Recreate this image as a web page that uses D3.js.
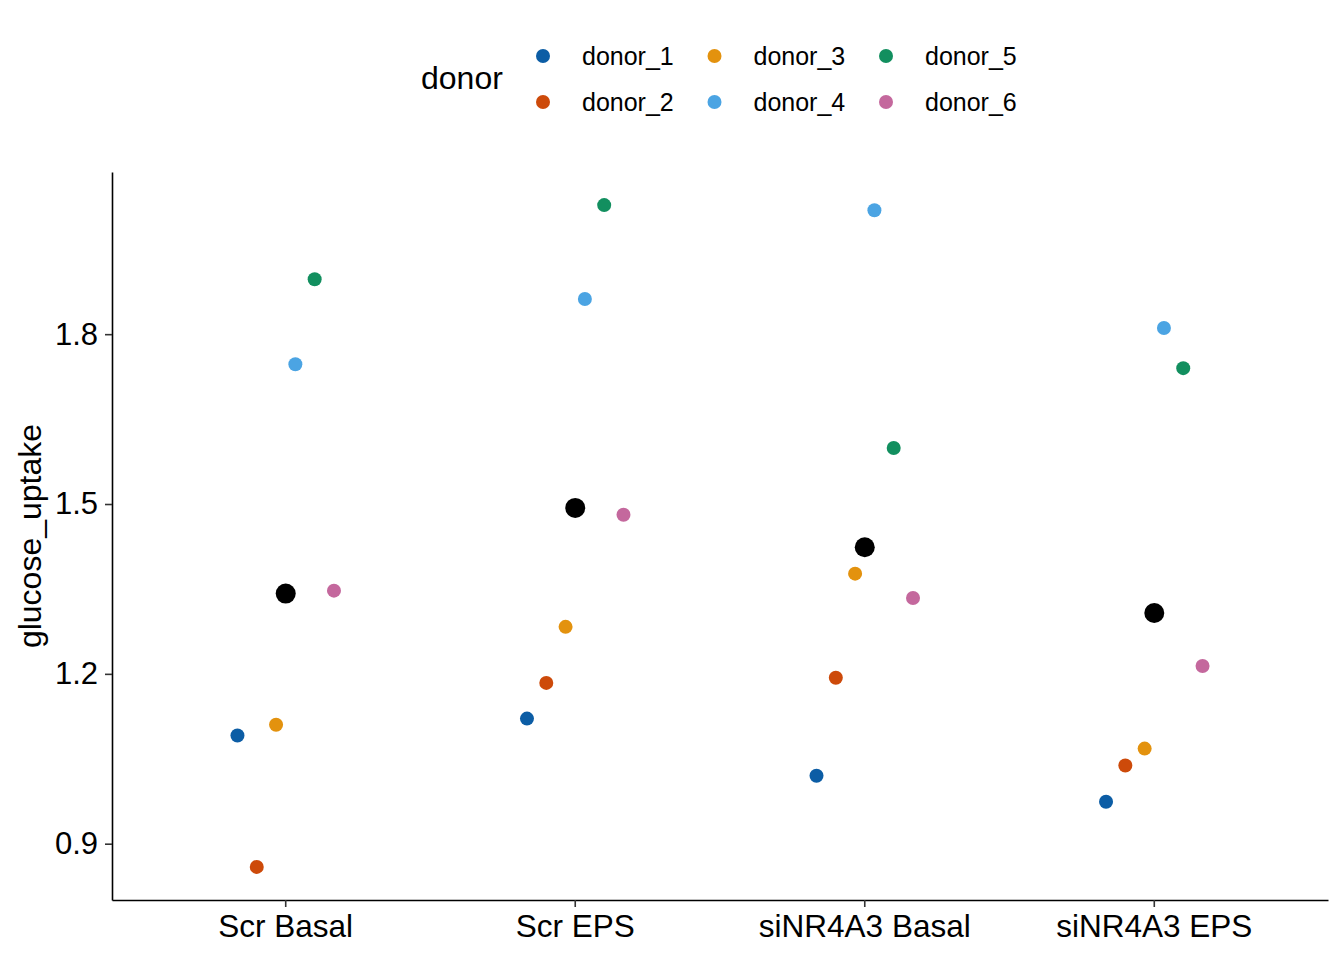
<!DOCTYPE html>
<html>
<head>
<meta charset="utf-8">
<script src="https://cdn.jsdelivr.net/npm/d3@7"></script>
<style>
  body { margin: 0; background: #fff; }
  svg text { font-family: "Liberation Sans", Arial, sans-serif; fill: #000; }
</style>
</head>
<body>
<svg width="1344" height="960"></svg>
<script>
const conditions = ["Scr Basal", "Scr EPS", "siNR4A3 Basal", "siNR4A3 EPS"];
const donors = ["donor_1", "donor_2", "donor_3", "donor_4", "donor_5", "donor_6"];
const donorColors = ["#0C5DA5", "#CD4A0A", "#E3920E", "#4BA4E3", "#128F5F", "#C4689D"];

// glucose uptake per condition, one value per donor (donor_1 .. donor_6)
const scrBasal = [1.091, 0.859, 1.110, 1.747, 1.897, 1.347];
const scrEps = [1.121, 1.184, 1.283, 1.862, 2.028, 1.481];
const siBasal = [1.020, 1.193, 1.377, 2.019, 1.599, 1.334];
const siEps = [0.974, 1.038, 1.068, 1.811, 1.740, 1.214];

const yTicks = [0.9, 1.2, 1.5, 1.8];

const seriesByCondition = [scrBasal, scrEps, siBasal, siEps];

const points = [];
conditions.forEach((c, ci) => {
  seriesByCondition[ci].forEach((v, di) => {
    points.push({ condition: c, donor: donors[di], di: di, value: v });
  });
});
const means = conditions.map((c, ci) => ({ condition: c, value: d3.mean(seriesByCondition[ci]) }));

const svg = d3.select("svg");
const margin = { top: 172, right: 16, bottom: 60, left: 112 };
const width = 1344 - margin.left - margin.right;
const height = 960 - margin.top - margin.bottom;

const g = svg.append("g")
  .attr("transform", "translate(" + margin.left + "," + margin.top + ")");

//scales (ggplot style expansion)
const x = d3.scaleBand()
  .domain(conditions)
  .range([0, width])
  .paddingInner(0)
  .paddingOuter(0.1);

const [vmin, vmax] = d3.extent(points, d => d.value);
const pad = (vmax - vmin) * 0.05;
const y = d3.scaleLinear()
  .domain([vmin - pad, vmax + pad])
  .range([height, 0]);

const color = d3.scaleOrdinal().domain(donors).range(donorColors);

// dodge width 0.4 across 6 donors
const dodge = di => (di - (donors.length - 1) / 2) * (0.4 / donors.length) * x.bandwidth();
const cx = c => x(c) + x.bandwidth() / 2;

//x-axis
const xAxis = g.append("g")
  .attr("transform", "translate(0," + height + ")")
  .call(d3.axisBottom(x).tickSize(7).tickPadding(6).tickSizeOuter(0));
xAxis.select(".domain").attr("stroke", "#000").attr("stroke-width", 1.6);
xAxis.selectAll(".tick line").attr("stroke", "#333").attr("stroke-width", 1.6);
xAxis.selectAll(".tick text").attr("font-size", "31.5px").attr("fill", "#000").attr("dy", "0.76em");

//y-axis
const yAxis = g.append("g")
  .call(d3.axisLeft(y).tickValues(yTicks).tickFormat(d3.format(".1f")).tickSize(7).tickPadding(7).tickSizeOuter(0));
yAxis.select(".domain").attr("stroke", "#000").attr("stroke-width", 1.6);
yAxis.selectAll(".tick line").attr("stroke", "#333").attr("stroke-width", 1.6);
yAxis.selectAll(".tick text").attr("font-size", "31px").attr("fill", "#000");

svg.append("text")
  .attr("transform", "translate(41," + (margin.top + height / 2) + ") rotate(-90)")
  .attr("text-anchor", "middle")
  .attr("font-size", "32px")
  .text("glucose_uptake");

//points
g.selectAll(".dot")
  .data(points)
  .enter()
  .append("circle")
  .attr("class", "dot")
  .attr("cx", d => cx(d.condition) + dodge(d.di))
  .attr("cy", d => y(d.value))
  .attr("r", 7)
  .attr("fill", d => color(d.donor));

g.selectAll(".mean")
  .data(means)
  .enter()
  .append("circle")
  .attr("class", "mean")
  .attr("cx", d => cx(d.condition))
  .attr("cy", d => y(d.value))
  .attr("r", 10)
  .attr("fill", "#000");

//legend
const legend = svg.append("g");
legend.append("text")
  .attr("x", 421)
  .attr("y", 89)
  .attr("font-size", "32px")
  .text("donor");

const item = legend.selectAll(".item")
  .data(donors)
  .enter()
  .append("g")
  .attr("class", "item")
  .attr("transform", (d, i) => "translate(" + (543 + Math.floor(i / 2) * 171.5) + "," + (56 + (i % 2) * 46) + ")");
item.append("circle").attr("r", 7).attr("fill", d => color(d));
item.append("text")
  .attr("x", 39)
  .attr("y", 0)
  .attr("dy", "0.36em")
  .attr("font-size", "25px")
  .text(d => d);
</script>
</body>
</html>
